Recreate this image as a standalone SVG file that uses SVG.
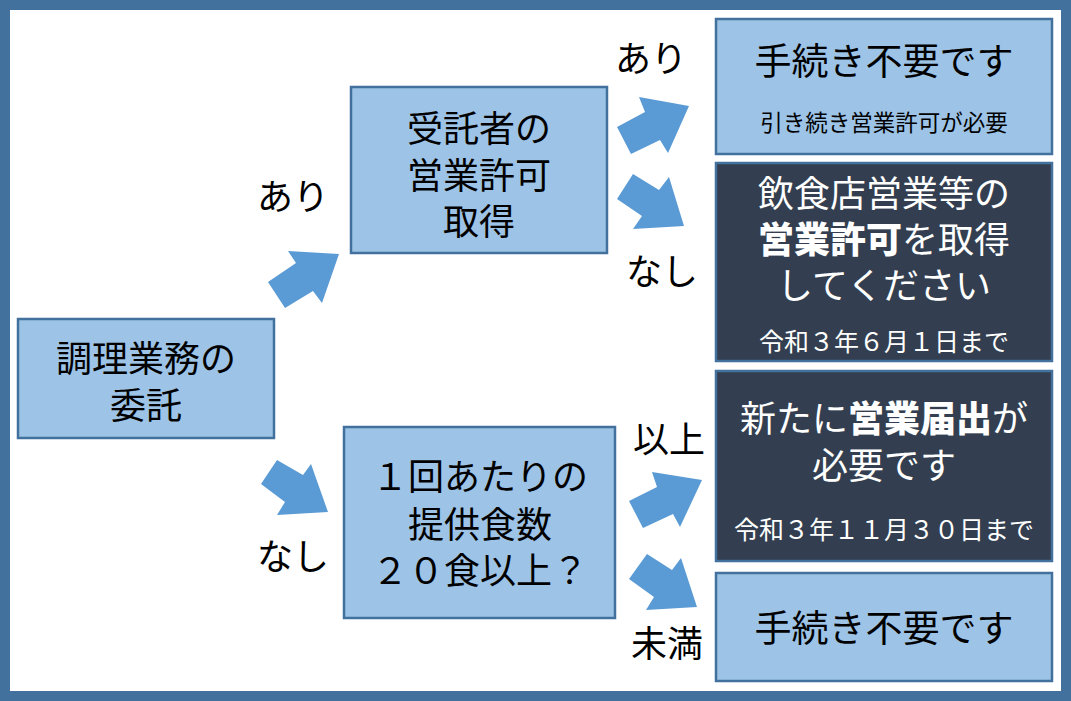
<svg xmlns="http://www.w3.org/2000/svg" width="1071" height="701" viewBox="0 0 1071 701">
<style>
text{font-family:"Noto Sans CJK JP","Noto Sans CJK SC",sans-serif;text-anchor:middle}
.lb{fill:#000;font-size:36px}
.bt{fill:#000;font-size:36px}
.wt{fill:#fff;font-size:36px}
.sm{font-size:22.5px}
.sw{fill:#fff;font-size:25px}
.hv{font-weight:900}
.light{fill:#9DC3E6;stroke:#41719C;stroke-width:2.5}
.dark{fill:#333F50;stroke:#41719C;stroke-width:2.5}
.arr{fill:#5B9BD5}
</style>
<rect x="0" y="0" width="1071" height="701" fill="#41719C"/>
<rect x="10" y="10" width="1051" height="681" fill="#fff"/>

<g id="connectors">
<polygon class="arr" points="268,282 296,263 288,251 339,254 322,303 313,291 285,308"/>
<polygon class="arr" points="277,460 303,475 311,464 328,512 277,515 285,502 261,484"/>
<polygon class="arr" points="617,127 645,112 639,97 689,106 668,153 660,140 631,154"/>
<polygon class="arr" points="633,174 659,190 669,177 684,226 633,229 642,216 617,199"/>
<polygon class="arr" points="629,501 657,487 652,472 702,480 680,527 673,514 643,528"/>
<polygon class="arr" points="647,554 672,570 681,558 697,607 646,610 654,597 629,579"/>
</g>

<g id="labels">
<text class="lb" x="651" y="72">あり</text>
<text class="lb" x="293" y="210">あり</text>
<text class="lb" x="662" y="285">なし</text>
<text class="lb" x="669" y="453">以上</text>
<text class="lb" x="293" y="570">なし</text>
<text class="lb" x="667" y="657">未満</text>
</g>

<g id="n-itaku">
<rect class="light" x="18" y="319" width="256" height="119"/>
<text class="bt" x="146" y="372">調理業務の</text>
<text class="bt" x="146" y="419">委託</text>
</g>

<g id="n-kyoka">
<rect class="light" x="351" y="87" width="256" height="166"/>
<text class="bt" x="479" y="142">受託者の</text>
<text class="bt" x="479" y="189">営業許可</text>
<text class="bt" x="479" y="235">取得</text>
</g>

<g id="n-shokusu">
<rect class="light" x="344" y="427" width="271" height="191"/>
<text class="bt" x="480" y="490">１回あたりの</text>
<text class="bt" x="480" y="538">提供食数</text>
<text class="bt" x="480" y="584">２０食以上？</text>
</g>

<g id="n-fuyou1">
<rect class="light" x="716" y="19" width="336" height="135"/>
<text class="bt" x="884" y="75" style="font-size:37px">手続き不要です</text>
<text class="bt sm" x="884" y="131">引き続き営業許可が必要</text>
</g>

<g id="n-kyoka-shutoku">
<rect class="dark" x="716" y="163" width="336" height="198"/>
<text class="wt" x="884" y="207">飲食店営業等の</text>
<text class="wt" x="884" y="253"><tspan class="hv">営業許可</tspan>を取得</text>
<text class="wt" x="884" y="299">してください</text>
<text class="sw" x="884" y="351">令和３年６月１日まで</text>
</g>

<g id="n-todokede">
<rect class="dark" x="716" y="371" width="336" height="190"/>
<text class="wt" x="884" y="432">新たに<tspan class="hv">営業届出</tspan>が</text>
<text class="wt" x="884" y="479">必要です</text>
<text class="sw" x="884" y="539">令和３年１１月３０日まで</text>
</g>

<g id="n-fuyou2">
<rect class="light" x="716" y="573" width="336" height="108"/>
<text class="bt" x="884" y="642" style="font-size:37px">手続き不要です</text>
</g>
</svg>
